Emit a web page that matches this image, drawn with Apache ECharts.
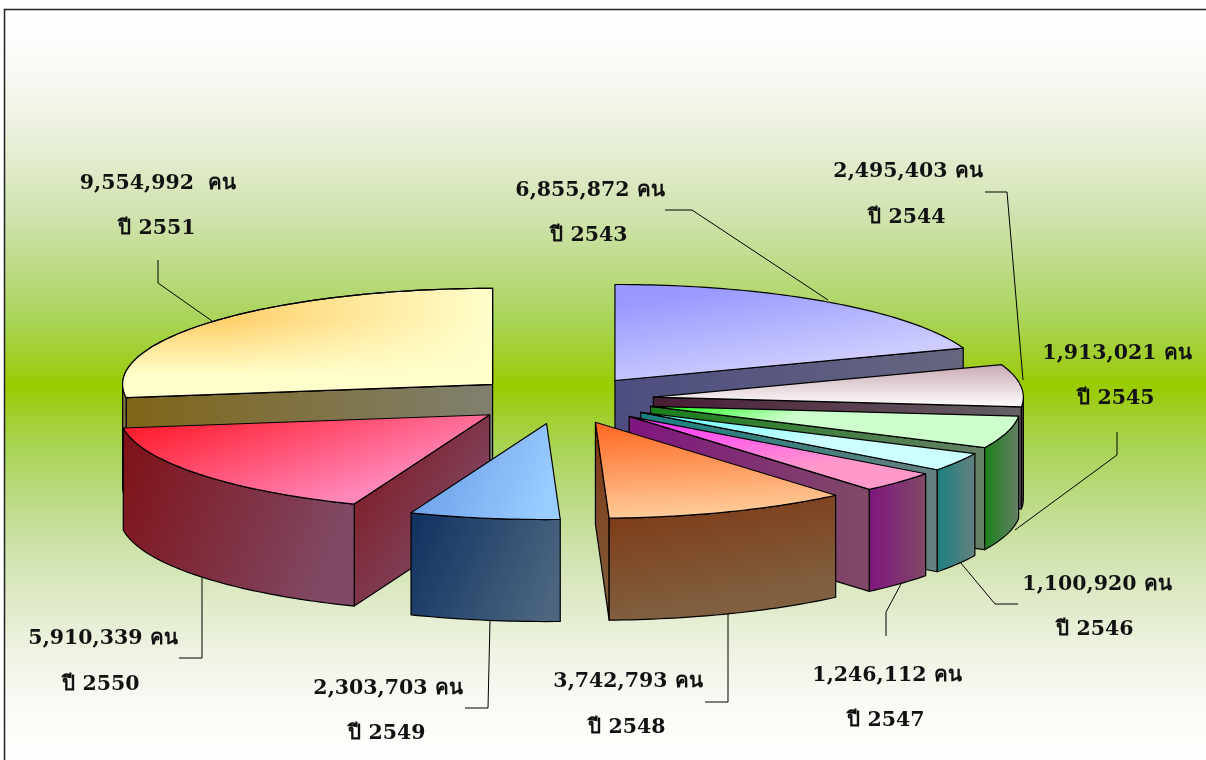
<!DOCTYPE html>
<html><head><meta charset="utf-8">
<style>html,body{margin:0;padding:0;background:#fff}#c{width:1206px;height:760px}</style>
<script src="https://cdn.jsdelivr.net/npm/echarts@6/dist/echarts.min.js"></script></head>
<body><div id="c"></div>
<script>
// ---- data, clockwise from 12 o'clock
const years = ['ปี 2543','ปี 2544','ปี 2545','ปี 2546','ปี 2547','ปี 2548','ปี 2549','ปี 2550','ปี 2551'];
const visitors = [6855872,2495403,1913021,1100920,1246112,3742793,2303703,5910339,9554992];
const valueLabels = ['6,855,872 คน','2,495,403 คน','1,913,021 คน','1,100,920 คน','1,246,112 คน','3,742,793 คน','2,303,703 คน','5,910,339 คน','9,554,992  คน'];

// ---- style and layout
const topFrom  = ['#9999ff','#c8a8b4','#33ff33','#66ffff','#ff33ff','#ff6622','#6699e6','#ff1a2a','#ffd06c'];
const topTo    = ['#ccccff','#ffffff','#ccffcc','#ccffff','#ff99cc','#ffcc99','#99ccff','#ff88bb','#ffffcc'];
const topDir   = [[.2,.1,.24,1],[.5,0,.5,1],[.1,0,.14,1],[.1,0,.14,1],[.1,0,.14,1],[.1,0,.12,1],[0,.2,.9,.8],[0,.16,.12,1.6],[.28,0,1,0]];
const sideFrom = ['#4d4d80','#4a1c35','#1a801a','#1a8080','#801580','#7f3510','#0f3060','#7f1015','#7f6518'];
const sideTo   = ['#666680','#666066','#668066','#668080','#804a66','#806040','#4c6680','#804a66','#808070'];
const sideDir  = [[0,0,1,0],[0,0,1,0],[0,0,1,0],[0,0,1,0],[0,0,1,0],[0,0,.1,1],[0,0,1,.6],[0,0,1,.5],[0,0,1,0]];
const drawOrder = [8,0,1,2,3,4,7,5,6];
const labelX1 = [590,908,1117,1097,887,628,388,103,158];
const labelY1 = [191,172,354,585,676,682,689,639,184];
const labelX2 = [589,907,1116,1095,886,627,387,101,157];
const labelY2 = [236,218,399,630,721,728,734,685,229];
const leaders = [
  [[665,210],[692,210],[828,300]],
  [[985,192],[1007,192],[1023,380]],
  [[1117,432],[1117,455],[1015,530]],
  [[1018,604],[995,604],[960,562]],
  [[886,636],[886,612],[901,584]],
  [[705,702],[728,702],[728,613]],
  [[465,708],[488,708],[490,620]],
  [[179,658],[202,658],[202,577]],
  [[158,260],[158,283],[212,321]]
];
const pie = {cx:562, cy:400, rx:370, ry:96, explode:92, depth:102};
const FONT = '"DejaVu Serif","Noto Sans",serif';
const bgY = [9,20,70,120,170,220,270,320,370,385,400,450,500,550,600,650,700,750,760];
const bgC = ['#ffffff','#ffffff','#f9f9f5','#eef3e2','#dfeac8','#cfe2ac','#bcdb84','#aad458','#9ecd18','#99cc00','#9ecd18','#aad458','#bcdb84','#cfe2ac','#dfeac8','#eef3e2','#f9f9f5','#fefefc','#ffffff'];

// ---- angles derived from the values
const total = visitors.reduce((a,b)=>a+b,0);
const angles = []; { let acc=0; for (const v of visitors){ const s=acc/total*Math.PI*2; acc+=v; angles.push([s,acc/total*Math.PI*2]); } }

function grad(from,to,d){ return {type:'linear',x:d[0],y:d[1],x2:d[2],y2:d[3],colorStops:[{offset:0,color:from},{offset:1,color:to}]}; }
function sliceGeometry(i){
  const [a,b]=angles[i], m=(a+b)/2;
  const px=pie.cx+pie.explode*Math.sin(m), py=pie.cy-pie.explode*pie.ry/pie.rx*Math.cos(m);
  const pt=t=>[px+pie.rx*Math.sin(t), py-pie.ry*Math.cos(t)];
  return {a,b,px,py,pt};
}
function arcPts(pt,a,b){ const n=Math.max(2,Math.ceil((b-a)/0.02)); const r=[]; for(let k=0;k<=n;k++) r.push(pt(a+(b-a)*k/n)); return r; }
function renderSlice(params,api){
  const i=api.value(0), g=sliceGeometry(i), d=pie.depth, out=[];
  const line={stroke:'#000',lineWidth:1.2,lineJoin:'round'};
  const side=grad(sideFrom[i],sideTo[i],sideDir[i]);
  const down=p=>[p[0],p[1]+d];
  const face=(pts,fill)=>out.push({type:'polygon',shape:{points:pts},style:Object.assign({fill},line)});
  const apex=[g.px,g.py];
  // radial walls facing the viewer
  if(Math.sin(g.a)<0){ const e=g.pt(g.a); face([apex,e,down(e),down(apex)],side); }
  if(Math.sin(g.b)>0){ const e=g.pt(g.b); face([apex,e,down(e),down(apex)],side); }
  // outer rim facing the viewer
  const s=Math.max(g.a,Math.PI/2), t=Math.min(g.b,Math.PI*1.5);
  if(t>s){ const rim=arcPts(g.pt,s,t); face(rim.concat(rim.slice().reverse().map(down)),side); }
  // top
  const topPts=[apex].concat(arcPts(g.pt,g.a,g.b));
  face(topPts,grad(topFrom[i],topTo[i],topDir[i]));
  if(i===8){ // the largest slice fades to pale towards the front as well
    out.push({type:'polygon',shape:{points:topPts},style:{stroke:'#000',lineWidth:1.2,lineJoin:'round',
      fill:{type:'linear',x:0,y:.3,x2:0,y2:.8,colorStops:[{offset:0,color:'rgba(255,255,204,0)'},{offset:1,color:'rgba(255,255,204,1)'}]}}});
  }
  return {type:'group',children:out};
}
function renderLeader(params,api){
  const i=api.value(0);
  return {type:'polyline',shape:{points:leaders[i]},style:{fill:null,stroke:'#000',lineWidth:1}};
}
function renderLabel(params,api){
  const i=api.value(0);
  const st=(x,y,text)=>({type:'text',style:{x,y,text,fill:'#111',font:'bold 20.5px '+FONT,textAlign:'center',textVerticalAlign:'middle'}});
  return {type:'group',children:[st(labelX1[i],labelY1[i],valueLabels[i]),st(labelX2[i],labelY2[i],years[i])]};
}
const chart=echarts.init(document.getElementById('c'),null,{renderer:'canvas',width:1206,height:760});
const plain=visitors.map((v,i)=>[i]);
chart.setOption({
  animation:false,
  backgroundColor:'#fff',
  graphic:{elements:[
    {type:'rect',z:0,silent:true,shape:{x:4,y:9,width:1202,height:751},style:{
      fill:{type:'linear',x:0,y:0,x2:0,y2:1,colorStops:bgY.map((y,k)=>({offset:(y-9)/751,color:bgC[k]}))}}},
    {type:'polyline',z:1,silent:true,shape:{points:[[4.5,760],[4.5,9.5],[1206,9.5]]},style:{fill:null,stroke:'#222',lineWidth:1.5}}
  ]},
  series:[
    {type:'custom',coordinateSystem:'none',silent:true,z:2,data:plain,renderItem:renderLeader},
    {type:'custom',coordinateSystem:'none',silent:true,z:3,data:drawOrder.map(i=>[i]),renderItem:renderSlice},
    {type:'custom',coordinateSystem:'none',silent:true,z:4,data:plain,renderItem:renderLabel}
  ]
});
</script></body></html>
